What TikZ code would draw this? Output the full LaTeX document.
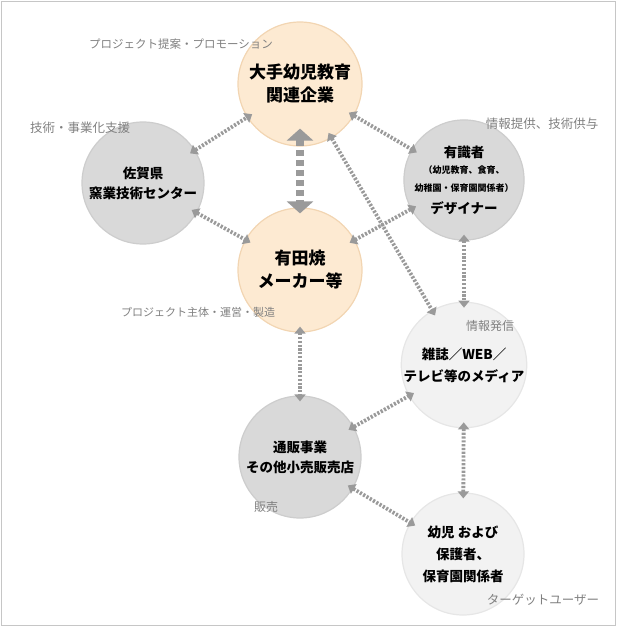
\documentclass[tikz,border=0pt]{standalone}
\usepackage{fontspec}
\setmainfont{Noto Sans CJK JP}
\usetikzlibrary{arrows.meta}
\definecolor{orangefill}{HTML}{FDEAD2}
\definecolor{orangeline}{HTML}{F2D5B2}
\definecolor{grayfill}{HTML}{D9D9D9}
\definecolor{grayline}{HTML}{CDCDCD}
\definecolor{lightfill}{HTML}{F2F2F2}
\definecolor{lightline}{HTML}{E6E6E6}
\definecolor{arrowgray}{HTML}{9A9A9A}
\definecolor{notegray}{HTML}{808080}
\tikzset{
  circ/.style={circle, inner sep=0pt, align=center, line width=1.2pt},
  orangecirc/.style={circ, fill=orangefill, draw=orangeline, minimum size=124pt,
    font=\fontsize{17}{23}\selectfont\bfseries},
  graycirc/.style={circ, fill=grayfill, draw=grayline, minimum size=122pt,
    font=\fontsize{13.5}{20}\selectfont\bfseries},
  lightcirc/.style={circ, fill=lightfill, draw=lightline, minimum size=122pt,
    font=\fontsize{13.5}{22}\selectfont\bfseries},
  note/.style={text=notegray, inner sep=0pt, font=\fontsize{11.5}{14}\selectfont},
  dotarrow/.style={draw=arrowgray, line width=3.8pt, dash pattern=on 2.2pt off 1.6pt,
    shorten <=-6pt, shorten >=-6pt,
    {Triangle[width=11pt,length=7pt]}-{Triangle[width=11pt,length=7pt]}},
  bigarrow/.style={draw=arrowgray, line width=8pt, dash pattern=on 6pt off 4pt,
    {Triangle[width=26pt,length=12pt]}-{Triangle[width=26pt,length=12pt]}}
}
\begin{document}
\begin{tikzpicture}[x=1pt,y=-1pt]
\useasboundingbox (0,0) rectangle (616,626);
\draw[color=gray!45, line width=0.8pt] (1,1) rectangle (615,625);
% Drawing circles
\node[orangecirc] (corp) at (300,84) {大手幼児教育\\関連企業};
\node[graycirc] (kiln) at (143,183) {佐賀県\\窯業技術センター};
\node[graycirc, minimum size=120pt] (expert) at (464,180) {有識者\\[-4pt]{\fontsize{9}{10}\selectfont（幼児教育、食育、}\\[-2pt]{\fontsize{9}{10}\selectfont 幼稚園・保育園関係者）}\\[2pt]デザイナー};
\node[orangecirc] (maker) at (300,270) {有田焼\\メーカー等};
\node[lightcirc] (media) at (464,365) {雑誌／WEB／\\テレビ等のメディア};
\node[graycirc] (retail) at (300,457) {通販事業\\その他小売販売店};
\node[lightcirc] (users) at (463,554) {幼児 および\\保護者、\\保育園関係者};
% Done with circles; drawing arrows
\draw[bigarrow, shorten <=-18pt, shorten >=-6pt] (corp) -- (maker);
\draw[dotarrow] (kiln) -- (corp);
\draw[dotarrow] (corp) -- (expert);
\draw[dotarrow] (kiln) -- (maker);
\draw[dotarrow] (expert) -- (maker);
\draw[dotarrow] (corp) -- (media);
\draw[dotarrow] (expert) -- (media);
\draw[dotarrow] (maker) -- (retail);
\draw[dotarrow] (retail) -- (media);
\draw[dotarrow] (media) -- (users);
\draw[dotarrow] (retail) -- (users);
% Done with arrows; drawing role labels
\node[note] (corplabel) at (181,44) {プロジェクト提案・プロモーション};
\node[note, font=\fontsize{12.5}{14}\selectfont] (kilnlabel) at (80,128) {技術・事業化支援};
\node[note, font=\fontsize{12.5}{14}\selectfont] (expertlabel) at (542,124) {情報提供、技術供与};
\node[note, font=\fontsize{11}{14}\selectfont] (makerlabel) at (198,312) {プロジェクト主体・運営・製造};
\node[note, font=\fontsize{12}{14}\selectfont] (medialabel) at (490,326) {情報発信};
\node[note, font=\fontsize{12}{14}\selectfont] (retaillabel) at (266,507) {販売};
\node[note, font=\fontsize{12.5}{14}\selectfont] (userslabel) at (543,600) {ターゲットユーザー};
% Done with labels
\end{tikzpicture}
\end{document}
